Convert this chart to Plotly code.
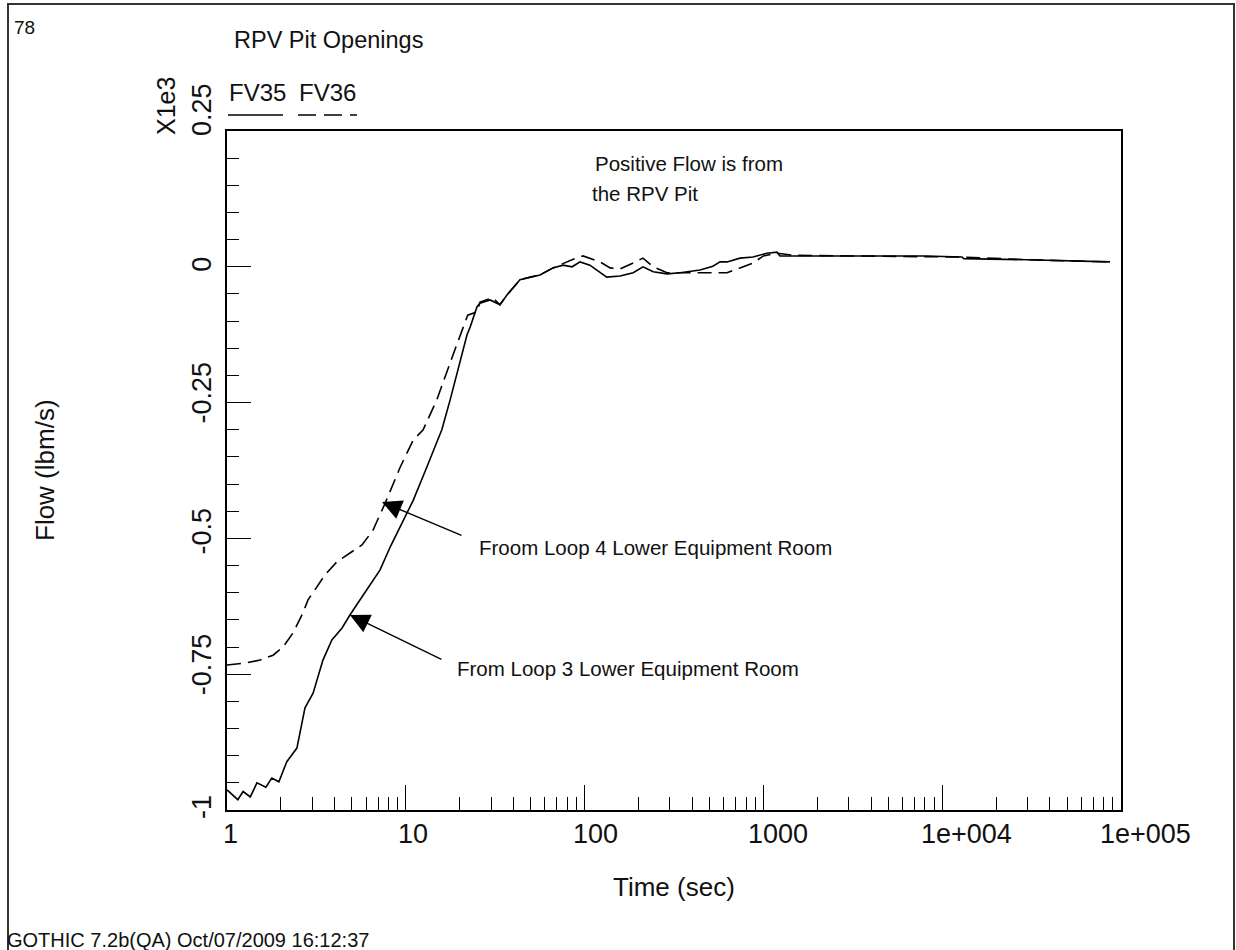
import math
import plotly.graph_objects as go

# FV35 flow path (solid) and FV36 flow path (dashed), flow in units of 1e3 lbm/s
time_fv35 = [1.00, 1.15, 1.23, 1.35, 1.47, 1.65, 1.78, 1.95, 2.16, 2.46, 2.73, 3.03,
             3.44, 3.86, 4.40, 4.87, 5.55, 6.30, 7.18, 8.2, 9.3, 11.0, 13.1, 15.9,
             17.7, 20.0, 22.0, 22.9, 25.0, 26.0, 29.6, 33.6, 36.8, 43.5, 49.5, 56.3,
             66.6, 75.7, 85.1, 94.3, 107, 122, 133, 158, 187, 212, 242, 289, 342,
             442, 522, 572, 626, 740, 875, 1047, 1191, 1238, 3000, 8000, 12900,
             13200, 30000, 86800]
flow_fv35 = [-0.963, -0.981, -0.966, -0.976, -0.950, -0.958, -0.941, -0.948, -0.911,
             -0.886, -0.812, -0.785, -0.724, -0.687, -0.665, -0.641, -0.613, -0.585,
             -0.558, -0.515, -0.479, -0.430, -0.369, -0.300, -0.245, -0.178, -0.125,
             -0.111, -0.074, -0.067, -0.061, -0.070, -0.052, -0.024, -0.019, -0.015,
             -0.002, 0.003, 0.000, 0.009, 0.003, -0.011, -0.019, -0.017, -0.011,
             0.000, -0.009, -0.013, -0.011, -0.006, 0.001, 0.009, 0.009, 0.016,
             0.018, 0.025, 0.027, 0.020, 0.020, 0.020, 0.018, 0.015, 0.013, 0.009]

time_fv36 = [1.00, 1.29, 1.53, 1.81, 2.06, 2.34, 2.66, 2.84, 3.10, 3.53, 4.12, 4.87,
             5.69, 6.55, 7.67, 9.3, 11.0, 12.5, 14.9, 18.8, 22.2, 25.0, 26.0, 30.6,
             33.6, 36.8, 43.5, 49.5, 56.3, 66.6, 75.7, 86.3, 98, 111, 122, 139, 158,
             187, 212, 242, 289, 425, 626, 740, 875, 1000, 1191, 1500, 5000, 12900,
             30000, 86800]
flow_fv36 = [-0.733, -0.729, -0.724, -0.715, -0.700, -0.674, -0.637, -0.613, -0.595,
             -0.567, -0.543, -0.527, -0.512, -0.485, -0.435, -0.369, -0.319, -0.300,
             -0.245, -0.153, -0.089, -0.083, -0.065, -0.057, -0.070, -0.052, -0.024,
             -0.019, -0.015, -0.002, 0.006, 0.014, 0.020, 0.013, 0.009, -0.002,
             -0.004, 0.007, 0.016, 0.000, -0.011, -0.011, -0.011, -0.002, 0.007,
             0.020, 0.025, 0.021, 0.020, 0.018, 0.013, 0.009]

x_tick_values = [1, 10, 100, 1000, 10000, 100000]
x_tick_labels = ["1", "10", "100", "1000", "1e+004", "1e+005"]
y_tick_values = [0.25, 0.0, -0.25, -0.5, -0.75, -1.0]
y_tick_labels = ["0.25", "0", "-0.25", "-0.5", "-0.75", "-1"]

W, H = 1236, 950
PL, PR, PT, PB = 227, 1121, 131, 810
FONT = "Liberation Sans, Arial, sans-serif"


def px(x):
    return (x - PL) / (PR - PL)


def py(y):
    return (PB - y) / (PB - PT)


fig = go.Figure()
fig.add_trace(go.Scatter(x=time_fv35, y=flow_fv35, mode="lines", name="FV35",
                         line=dict(color="black", width=1.6)))
fig.add_trace(go.Scatter(x=time_fv36, y=flow_fv36, mode="lines", name="FV36",
                         line=dict(color="black", width=1.6, dash="14px,7px")))

ann = []


def text(x, y, s, size, xanchor="left", angle=0, color="#111"):
    ann.append(dict(x=px(x), y=py(y), xref="paper", yref="paper", text=s,
                    showarrow=False, xanchor=xanchor, yanchor="middle",
                    textangle=angle, font=dict(family=FONT, size=size, color=color)))


# page furniture
text(12, 27, "78", 19)
text(232, 40, "RPV Pit Openings", 23.5)
text(227, 93, "FV35", 24)
text(297, 93, "FV36", 24)
text(166, 106, "X1e3", 25, xanchor="center", angle=-90)
text(45, 470, "Flow (lbm/s)", 26, xanchor="center", angle=-90)
text(674, 887, "Time (sec)", 26, xanchor="center")
text(5, 940, "GOTHIC 7.2b(QA) Oct/07/2009 16:12:37", 20)
text(593, 163, "Positive Flow is from", 20.5)
text(590, 193, "the RPV Pit", 20.5)
text(477, 547, "Froom Loop 4 Lower Equipment Room", 20.5)
text(455, 668, "From Loop 3 Lower Equipment Room", 20.5)

# x tick labels
x_shift = [3, 7, 11, 15, 24, 24]
for v, lab, sh in zip(x_tick_values, x_tick_labels, x_shift):
    ann.append(dict(x=math.log10(v), y=py(834), xref="x", yref="paper", text=lab,
                    showarrow=False, xanchor="center", yanchor="middle", xshift=sh,
                    font=dict(family=FONT, size=27, color="#111")))

# y tick labels (rotated)
y_shift = [21, 2, 10, 7, 10, 3]
for v, lab, sh in zip(y_tick_values, y_tick_labels, y_shift):
    ann.append(dict(x=px(202), y=v, xref="paper", yref="y", text=lab,
                    showarrow=False, xanchor="center", yanchor="middle", yshift=sh,
                    textangle=-90, font=dict(family=FONT, size=27, color="#111")))

# arrows pointing at the two curves
ann.append(dict(x=math.log10(7.36), y=-0.433, xref="x", yref="y", text="",
                showarrow=True, arrowhead=2, arrowsize=2.8, arrowwidth=1.4,
                arrowcolor="black", ax=463 - 382, ay=536 - 502, standoff=0))
ann.append(dict(x=math.log10(4.87), y=-0.641, xref="x", yref="y", text="",
                showarrow=True, arrowhead=2, arrowsize=2.8, arrowwidth=1.4,
                arrowcolor="black", ax=443 - 350, ay=660 - 615, standoff=0))

shapes = [
    # outer page frame
    dict(type="rect", xref="paper", yref="paper", x0=px(8), x1=px(1234),
         y0=py(990), y1=py(4), line=dict(color="#333", width=2)),
    # legend line samples
    dict(type="line", xref="paper", yref="paper", x0=px(228), x1=px(283),
         y0=py(115), y1=py(115), line=dict(color="black", width=1.5)),
    dict(type="line", xref="paper", yref="paper", x0=px(298), x1=px(357),
         y0=py(115), y1=py(115), line=dict(color="black", width=1.5, dash="18px,8px")),
]

fig.update_layout(
    width=W, height=H,
    margin=dict(l=PL, r=W - PR, t=PT, b=H - PB, pad=0),
    paper_bgcolor="white", plot_bgcolor="white",
    showlegend=False,
    annotations=ann, shapes=shapes,
    xaxis=dict(type="log", range=[0, 5], showgrid=False, zeroline=False,
               showline=True, linecolor="black", linewidth=1.5, mirror=True,
               ticks="inside", ticklen=25, tickwidth=1.3, tickcolor="black",
               tickvals=x_tick_values, showticklabels=False,
               minor=dict(ticks="inside", ticklen=13, tickwidth=1.3,
                          tickcolor="black", dtick="D1", showgrid=False)),
    yaxis=dict(range=[-1, 0.25], showgrid=False, zeroline=False,
               showline=True, linecolor="black", linewidth=1.5, mirror=True,
               ticks="inside", ticklen=24, tickwidth=1.3, tickcolor="black",
               tickvals=y_tick_values, showticklabels=False,
               minor=dict(ticks="inside", ticklen=12, tickwidth=1.3,
                          tickcolor="black", dtick=0.05, showgrid=False)),
)

fig.write_html("out.html")
